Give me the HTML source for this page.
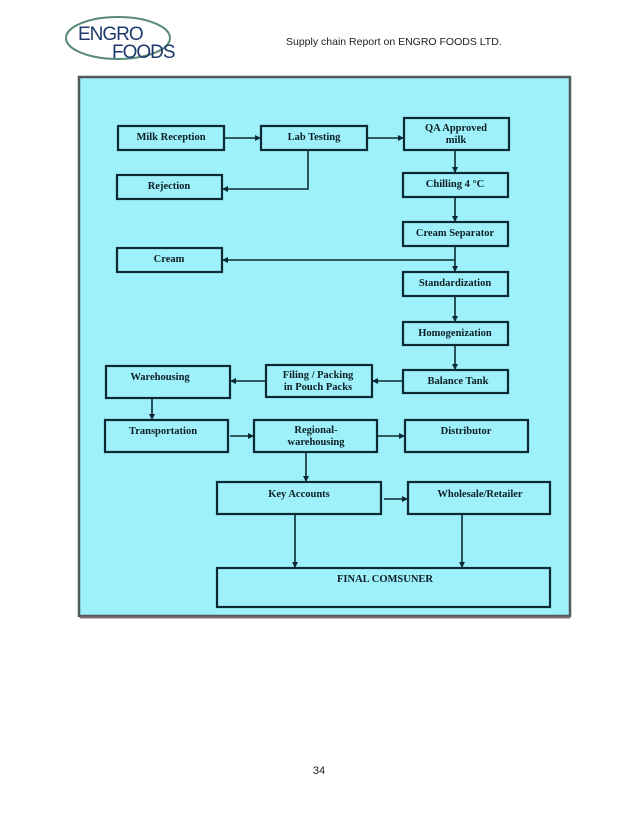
<!DOCTYPE html>
<html><head><meta charset="utf-8"><style>
html,body{margin:0;padding:0;background:#fff;width:638px;height:826px;overflow:hidden}
svg{display:block}
.b{fill:none;stroke:#0c2a33;stroke-width:2.2}
.t{font-family:"Liberation Serif",serif;font-weight:bold;font-size:10.5px;fill:#0d1f24;text-anchor:middle}
.l{stroke:#0c2a33;stroke-width:1.6;fill:none}
</style></head><body>
<svg width="638" height="826" viewBox="0 0 638 826" xmlns="http://www.w3.org/2000/svg">
<defs><marker id="a" markerWidth="6" markerHeight="6" refX="5" refY="3" orient="auto" markerUnits="userSpaceOnUse"><path d="M0,0 L6,3 L0,6 z" fill="#0c2a33"/></marker></defs>
<!-- logo -->
<ellipse cx="118" cy="38" rx="52" ry="21" fill="none" stroke="#5a8a78" stroke-width="2"/>
<text x="78" y="40" font-family="Liberation Sans,sans-serif" font-size="19" fill="#1d3a6e" letter-spacing="-1">ENGRO</text>
<text x="112" y="58" font-family="Liberation Sans,sans-serif" font-size="19" fill="#1d3a6e" letter-spacing="-1">FOODS</text>
<text x="286" y="45" font-family="Liberation Sans,sans-serif" font-size="10.5" fill="#222">Supply chain Report on ENGRO FOODS LTD.</text>
<!-- frame -->
<rect x="79" y="77" width="491" height="539" fill="#9ef0fb" stroke="#505a5c" stroke-width="2.5"/>
<line x1="80" y1="617.5" x2="570" y2="617.5" stroke="#8a6a6a" stroke-width="2"/>
<!-- boxes -->
<g class="b">
<rect x="118" y="126" width="106" height="24"/>
<rect x="261" y="126" width="106" height="24"/>
<rect x="404" y="118" width="105" height="32"/>
<rect x="117" y="175" width="105" height="24"/>
<rect x="403" y="173" width="105" height="24"/>
<rect x="403" y="222" width="105" height="24"/>
<rect x="117" y="248" width="105" height="24"/>
<rect x="403" y="272" width="105" height="24"/>
<rect x="403" y="322" width="105" height="23"/>
<rect x="403" y="370" width="105" height="23"/>
<rect x="266" y="365" width="106" height="32"/>
<rect x="106" y="366" width="124" height="32"/>
<rect x="105" y="420" width="123" height="32"/>
<rect x="254" y="420" width="123" height="32"/>
<rect x="405" y="420" width="123" height="32"/>
<rect x="217" y="482" width="164" height="32"/>
<rect x="408" y="482" width="142" height="32"/>
<rect x="217" y="568" width="333" height="39"/>
</g>
<g class="t">
<text x="171" y="140">Milk Reception</text>
<text x="314" y="140">Lab Testing</text>
<text x="456" y="131">QA Approved</text>
<text x="456" y="143">milk</text>
<text x="169" y="189">Rejection</text>
<text x="455" y="187">Chilling 4 °C</text>
<text x="455" y="236">Cream Separator</text>
<text x="169" y="262">Cream</text>
<text x="455" y="286">Standardization</text>
<text x="455" y="336">Homogenization</text>
<text x="458" y="384">Balance Tank</text>
<text x="318" y="378">Filing / Packing</text>
<text x="318" y="390">in Pouch Packs</text>
<text x="160" y="380">Warehousing</text>
<text x="163" y="434">Transportation</text>
<text x="316" y="433">Regional-</text>
<text x="316" y="445">warehousing</text>
<text x="466" y="434">Distributor</text>
<text x="299" y="497">Key Accounts</text>
<text x="480" y="497">Wholesale/Retailer</text>
<text x="385" y="582">FINAL COMSUNER</text>
</g>
<!-- connectors -->
<g class="l">
<line x1="224" y1="138" x2="260" y2="138" marker-end="url(#a)"/>
<line x1="367" y1="138" x2="403" y2="138" marker-end="url(#a)"/>
<polyline points="308,150 308,189 223,189" marker-end="url(#a)"/>
<line x1="455" y1="150" x2="455" y2="172" marker-end="url(#a)"/>
<line x1="455" y1="197" x2="455" y2="221" marker-end="url(#a)"/>
<line x1="455" y1="246" x2="455" y2="271" marker-end="url(#a)"/>
<line x1="455" y1="260" x2="223" y2="260" marker-end="url(#a)"/>
<line x1="455" y1="296" x2="455" y2="321" marker-end="url(#a)"/>
<line x1="455" y1="345" x2="455" y2="369" marker-end="url(#a)"/>
<line x1="403" y1="381" x2="373" y2="381" marker-end="url(#a)"/>
<line x1="266" y1="381" x2="231" y2="381" marker-end="url(#a)"/>
<line x1="152" y1="398" x2="152" y2="419" marker-end="url(#a)"/>
<line x1="230" y1="436" x2="253" y2="436" marker-end="url(#a)"/>
<line x1="377" y1="436" x2="404" y2="436" marker-end="url(#a)"/>
<line x1="306" y1="452" x2="306" y2="481" marker-end="url(#a)"/>
<line x1="384" y1="499" x2="407" y2="499" marker-end="url(#a)"/>
<line x1="295" y1="514" x2="295" y2="567" marker-end="url(#a)"/>
<line x1="462" y1="514" x2="462" y2="567" marker-end="url(#a)"/>
</g>
<text x="319" y="774" font-family="Liberation Sans,sans-serif" font-size="11" fill="#222" text-anchor="middle">34</text>
</svg>
</body></html>
